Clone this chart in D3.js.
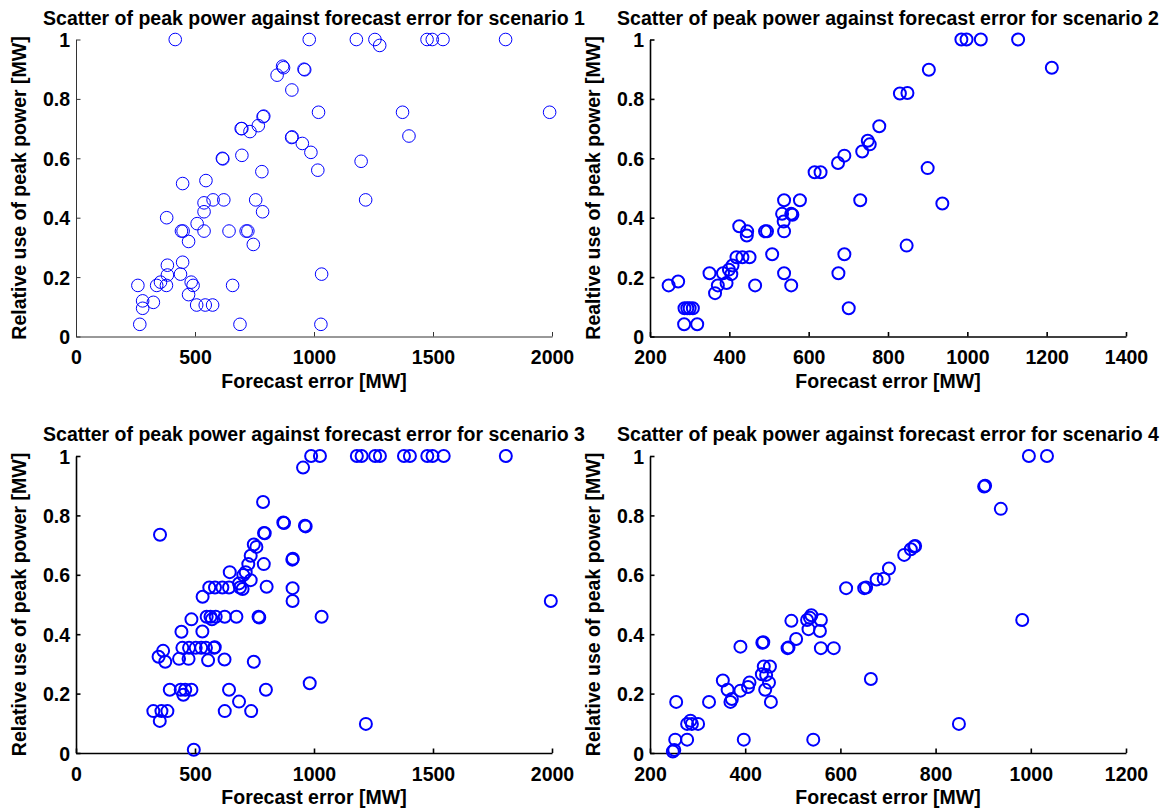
<!DOCTYPE html>
<html>
<head>
<meta charset="utf-8">
<script src="https://cdn.jsdelivr.net/npm/d3@7"></script>
<style>
  body { margin: 0; background: #fff; }
  svg text { font-family: "Liberation Sans", Arial, sans-serif; font-weight: bold; fill: #000; }
</style>
</head>
<body>
<script>
// scenario 1
const s1Error = [417, 980, 1178, 1256, 1276, 1475, 1497, 1542, 1805,
  845, 868, 872, 958, 961, 907, 1019, 1372, 1990, 786, 789, 766, 694, 697, 731, 1399,
  906, 908, 951, 987, 697, 615, 617, 1198, 1016, 781, 546, 448,
  576, 621, 755, 1217, 538, 538, 784, 381, 509,
  443, 450, 538, 643, 715, 722, 473, 745,
  448, 384, 439, 1032, 384, 355, 484, 260, 339, 380, 492, 658, 473, 280, 325,
  507, 543, 574, 280, 268, 689, 1029];
const s1Use = [1, 1, 1, 1, 0.98, 1, 1, 1, 1,
  0.88, 0.91, 0.905, 0.90, 0.898, 0.83, 0.755, 0.755, 0.755, 0.74, 0.742, 0.71, 0.70, 0.70, 0.69, 0.675,
  0.67, 0.672, 0.65, 0.62, 0.61, 0.60, 0.598, 0.59, 0.56, 0.555, 0.525, 0.515,
  0.46, 0.46, 0.46, 0.46, 0.45, 0.42, 0.42, 0.40, 0.38,
  0.355, 0.355, 0.355, 0.355, 0.355, 0.355, 0.32, 0.31,
  0.25, 0.24, 0.21, 0.21, 0.207, 0.183, 0.183, 0.172, 0.172, 0.172, 0.172, 0.172, 0.141, 0.12, 0.115,
  0.106, 0.106, 0.106, 0.095, 0.041, 0.041, 0.041];

// scenario 2
const s2Error = [985, 998, 1034, 1128, 1213, 903, 830, 849, 778, 749, 754, 735, 690, 674, 615, 630, 900,
  538, 578, 730, 937, 533, 556, 559, 537, 538, 425, 445, 490, 495, 444,
  508, 690, 847, 418, 433, 451, 408, 399, 350, 384, 538, 675, 405, 393, 271, 247, 371, 465, 556, 364,
  287, 294, 300, 308, 701, 286, 319];
const s2Use = [1, 1, 1, 1, 0.905, 0.898, 0.818, 0.82, 0.708, 0.659, 0.647, 0.623, 0.609, 0.584, 0.553, 0.553, 0.567,
  0.459, 0.459, 0.459, 0.448, 0.413, 0.413, 0.41, 0.387, 0.354, 0.371, 0.354, 0.354, 0.354, 0.34,
  0.277, 0.277, 0.306, 0.267, 0.267, 0.267, 0.239, 0.225, 0.213, 0.213, 0.213, 0.213, 0.21, 0.18, 0.185, 0.172, 0.172, 0.172, 0.172, 0.146,
  0.095, 0.095, 0.095, 0.095, 0.095, 0.041, 0.041];

// scenario 3
const s3Error = [988, 1025, 1180, 1200, 1257, 1277, 1378, 1403, 1476, 1498, 1545, 1806,
  954, 786, 871, 874, 962, 965, 353, 790, 793, 747, 758, 734, 909, 911, 724, 789, 646, 713, 703, 734, 685,
  560, 584, 615, 643, 801, 910, 689, 700, 532, 910, 1995,
  549, 565, 587, 625, 674, 767, 770, 1032, 485, 571, 443, 531,
  447, 475, 503, 526, 546, 580, 583, 366, 347, 433, 473, 624, 555, 375, 747,
  982, 394, 440, 459, 485, 643, 798, 451, 685,
  325, 359, 384, 625, 736, 352, 1218, 495];
const s3Use = [1, 1, 1, 1, 1, 1, 1, 1, 1, 1, 1, 1,
  0.961, 0.845, 0.776, 0.774, 0.765, 0.763, 0.735, 0.741, 0.74, 0.702, 0.694, 0.664, 0.651, 0.654, 0.636, 0.636, 0.609, 0.609, 0.599, 0.582, 0.571,
  0.557, 0.557, 0.557, 0.557, 0.56, 0.555, 0.557, 0.552, 0.526, 0.512, 0.512,
  0.459, 0.459, 0.459, 0.459, 0.459, 0.459, 0.456, 0.459, 0.45, 0.45, 0.408, 0.409,
  0.354, 0.354, 0.354, 0.354, 0.354, 0.354, 0.356, 0.344, 0.324, 0.317, 0.317, 0.315, 0.312, 0.307, 0.307,
  0.235, 0.213, 0.213, 0.213, 0.213, 0.213, 0.213, 0.196, 0.173,
  0.141, 0.141, 0.141, 0.141, 0.141, 0.108, 0.098, 0.011];

// scenario 4
const s4Error = [996, 1034, 902, 904, 937, 755, 757, 748, 734, 702, 691, 676, 612, 650, 654,
  982, 497, 530, 559, 539, 536, 533, 557, 507, 436, 438, 390, 489, 491, 559, 586,
  439, 452, 435, 444, 664, 353, 409, 450, 406, 363, 390, 442, 372, 255, 324, 369, 454,
  285, 278, 288, 301, 849, 253, 278, 397, 543, 248, 251];
const s4Use = [1, 1, 0.897, 0.9, 0.822, 0.695, 0.697, 0.686, 0.667, 0.621, 0.587, 0.584, 0.555, 0.555, 0.557,
  0.448, 0.445, 0.448, 0.448, 0.464, 0.455, 0.417, 0.411, 0.384, 0.371, 0.373, 0.358, 0.353, 0.355, 0.353, 0.353,
  0.291, 0.291, 0.265, 0.263, 0.249, 0.244, 0.237, 0.237, 0.222, 0.213, 0.21, 0.213, 0.182, 0.172, 0.172, 0.172, 0.172,
  0.109, 0.098, 0.098, 0.098, 0.098, 0.045, 0.045, 0.045, 0.045, 0.005, 0.01];

const yTicks = [0, 0.2, 0.4, 0.6, 0.8, 1];
const yTickLabels = ['0', '0.2', '0.4', '0.6', '0.8', '1'];
const xTicksWide = [0, 500, 1000, 1500, 2000];
const xTicks1400 = [200, 400, 600, 800, 1000, 1200, 1400];
const xTicks1200 = [200, 400, 600, 800, 1000, 1200];

const titles = [
  'Scatter of peak power against forecast error for scenario 1',
  'Scatter of peak power against forecast error for scenario 2',
  'Scatter of peak power against forecast error for scenario 3',
  'Scatter of peak power against forecast error for scenario 4'
];
const yLabels = [
  'Relative use of peak power [MW]',
  'Realtive use of peak power [MW]',
  'Relative use of peak power [MW]',
  'Relative use of peak power [MW]'
];
const xLabel = 'Forecast error [MW]';

const W = 1170, H = 811;
const FONT = '19.5px';

const panels = [
  { x: s1Error, y: s1Use, ticks: xTicksWide, left: 76, top: 39.5, thin: true },
  { x: s2Error, y: s2Use, ticks: xTicks1400, left: 650, top: 39.5, thin: false },
  { x: s3Error, y: s3Use, ticks: xTicksWide, left: 76, top: 456, thin: false },
  { x: s4Error, y: s4Use, ticks: xTicks1200, left: 650, top: 456, thin: false }
];
const pw = 476, ph = 297;

const svg = d3.select('body').append('svg')
  .attr('width', W)
  .attr('height', H);

panels.forEach((p, i) => {
  const g = svg.append('g').attr('transform', `translate(${p.left},${p.top})`);

  const x = d3.scaleLinear()
    .domain([p.ticks[0], p.ticks[p.ticks.length - 1]])
    .range([0, pw]);
  const y = d3.scaleLinear().domain([0, 1]).range([ph, 0]);

  const axisColor = p.thin ? '#333' : '#000';
  const axisWidth = p.thin ? 1 : 1.6;

  const xAxis = g.append('g')
    .attr('transform', `translate(0,${ph})`)
    .call(d3.axisBottom(x).tickValues(p.ticks).tickFormat(d3.format('d'))
      .tickSizeInner(-4.5).tickSizeOuter(0).tickPadding(14));

  const yAxis = g.append('g')
    .call(d3.axisLeft(y).tickValues(yTicks).tickFormat((d, k) => yTickLabels[k])
      .tickSizeInner(-4.5).tickSizeOuter(0).tickPadding(6));

  [xAxis, yAxis].forEach(a => {
    a.attr('font-family', null).attr('font-size', null);
    a.select('.domain').attr('stroke', axisColor).attr('stroke-width', axisWidth);
    a.selectAll('.tick line').attr('stroke', axisColor).attr('stroke-width', axisWidth);
    a.selectAll('.tick text').style('font-size', FONT);
  });
  yAxis.selectAll('.tick text').attr('dy', '0.36em');

  g.append('g')
    .selectAll('circle')
    .data(p.x.map((v, k) => [v, p.y[k]]))
    .join('circle')
    .attr('cx', d => x(d[0]))
    .attr('cy', d => y(d[1]))
    .attr('r', p.thin ? 6.3 : 6)
    .attr('fill', 'none')
    .attr('stroke', '#0000ff')
    .attr('stroke-width', p.thin ? 1 : 2);

  g.append('text')
    .attr('x', pw / 2)
    .attr('y', -15)
    .attr('text-anchor', 'middle')
    .style('font-size', FONT)
    .text(titles[i]);

  g.append('text')
    .attr('x', pw / 2)
    .attr('y', ph + 51)
    .attr('text-anchor', 'middle')
    .style('font-size', FONT)
    .text(xLabel);

  g.append('text')
    .attr('transform', `translate(-50,${ph / 2}) rotate(-90)`)
    .attr('text-anchor', 'middle')
    .style('font-size', FONT)
    .text(yLabels[i]);
});
</script>
</body>
</html>
